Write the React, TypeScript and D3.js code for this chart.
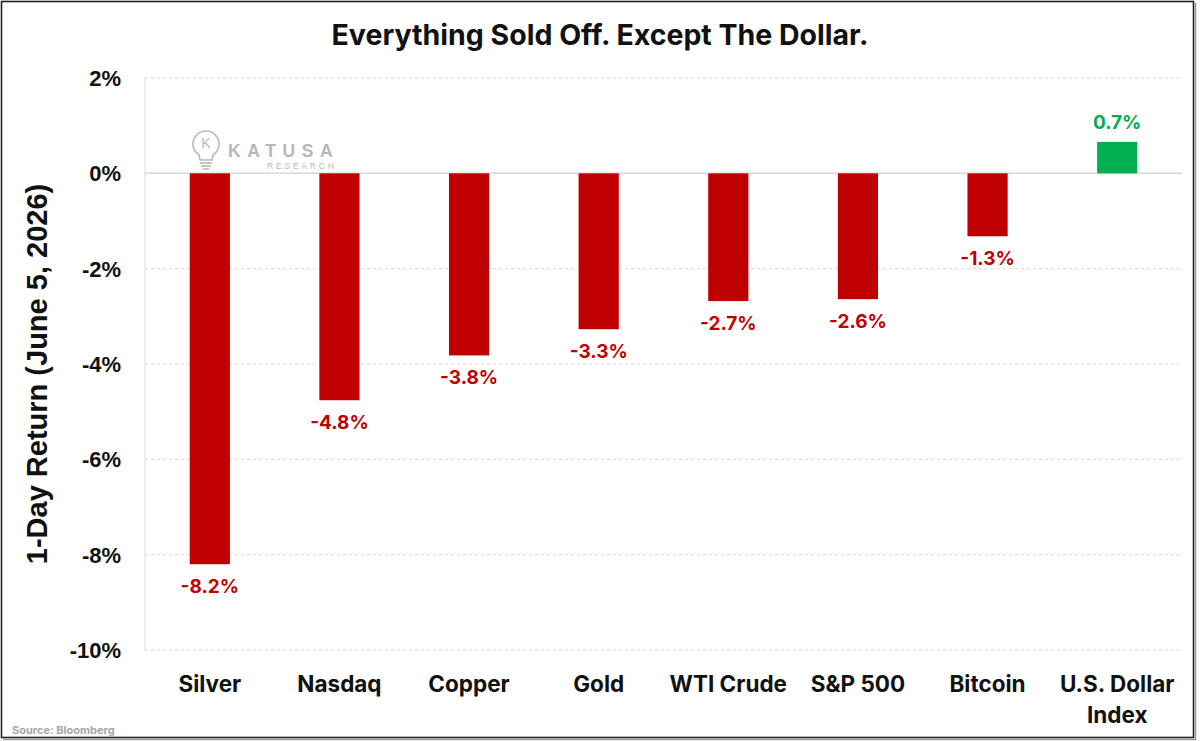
import React from "react";
import * as d3 from "d3";

const categories = ["Silver", "Nasdaq", "Copper", "Gold", "WTI Crude", "S&P 500", "Bitcoin", "U.S. Dollar Index"];
const values = [-8.2, -4.76, -3.82, -3.27, -2.68, -2.64, -1.32, 0.66];
const labels = ["-8.2%", "-4.8%", "-3.8%", "-3.3%", "-2.7%", "-2.6%", "-1.3%", "0.7%"];
const yTicks = [2, 0, -2, -4, -6, -8, -10];

const W = 1200;
const H = 741;
const plot = { left: 145, right: 1182, top: 78, bottom: 650 };

const RED = "#C00000";
const GREEN = "#00B050";
const GRID = "#d9d9d9";
const LOGO = "#b8b8b8";
const sansBold = "Inter, 'Noto Sans', sans-serif";
const arial = "'Liberation Sans', Arial, sans-serif";

export default function App() {
  const x = d3.scaleBand<string>().domain(categories).range([plot.left, plot.right]).paddingInner(0.69).paddingOuter(0.345);
  const y = d3.scaleLinear().domain([-10, 2]).range([plot.bottom, plot.top]);

  return (
    <>
      <style>{"body{margin:0;background:#fff}"}</style>
      <svg width={W} height={H} style={{ display: "block" }}>
        <rect x={0} y={0} width={W} height={H} fill="#fff" />
        <rect x={1.5} y={1.5} width={1192} height={736} fill="none" stroke="#222" strokeWidth={1.6} />
        <line x1={3} x2={1196} y1={739.5} y2={739.5} stroke="#999" strokeWidth={1.5} />
        <line x1={1195.5} x2={1195.5} y1={3} y2={740} stroke="#999" strokeWidth={1.5} />

        <text x={600} y={45} textAnchor="middle" fontFamily={sansBold} fontWeight={700} fontSize={28.5} fill="#111">
          Everything Sold Off. Except The Dollar.
        </text>

        {/* grid */}
        {yTicks.map((t) => (
          <line
            key={"g" + t}
            x1={plot.left}
            x2={plot.right}
            y1={y(t)}
            y2={y(t)}
            stroke={GRID}
            strokeWidth={1}
            strokeDasharray={t === 0 ? undefined : "3,3"}
          />
        ))}
        <line x1={plot.left} x2={plot.left} y1={plot.top} y2={plot.bottom} stroke={GRID} strokeWidth={1} />
        <line x1={plot.left} x2={plot.right} y1={y(0)} y2={y(0)} stroke={GRID} strokeWidth={1.5} />

        {/* y tick labels */}
        {yTicks.map((t) => (
          <text key={"t" + t} x={121} y={y(t) + 8} textAnchor="end" fontFamily={arial} fontWeight={700} fontSize={22} fill="#111">
            {t + "%"}
          </text>
        ))}

        <text
          transform={`translate(47,374) rotate(-90)`}
          textAnchor="middle"
          fontFamily={arial}
          fontWeight={700}
          fontSize={29}
          fill="#111"
        >
          1-Day Return (June 5, 2026)
        </text>

        {/* logo */}
        <g>
          <path
            d="M 199 155 a 13 13 0 1 1 14 0 l -1 5 h -12 z"
            fill="none"
            stroke={LOGO}
            strokeWidth={1.6}
          />
          <line x1={200} x2={212} y1={163} y2={163} stroke={LOGO} strokeWidth={1.6} />
          <line x1={201} x2={211} y1={166} y2={166} stroke={LOGO} strokeWidth={1.6} />
          <line x1={203} x2={209} y1={169} y2={169} stroke={LOGO} strokeWidth={1.6} />
          <text x={206} y={148} textAnchor="middle" fontFamily={arial} fontSize={14} fill={LOGO}>K</text>
          <text x={228} y={157} fontFamily={arial} fontWeight={700} fontSize={17.5} letterSpacing={6.6} fill={LOGO}>
            KATUSA
          </text>
          <text x={267} y={169} fontFamily={arial} fontSize={8.5} letterSpacing={2.8} fill={LOGO}>
            RESEARCH
          </text>
        </g>

        {/* bars */}
        {categories.map((c, i) => {
          const v = values[i];
          const x0 = x(c)!;
          const top = Math.min(y(v), y(0));
          const h = Math.abs(y(v) - y(0));
          return <rect key={"b" + c} x={x0} y={top} width={x.bandwidth()} height={h} fill={v < 0 ? RED : GREEN} />;
        })}

        {/* value labels */}
        {categories.map((c, i) => {
          const v = values[i];
          const cx = x(c)! + x.bandwidth() / 2;
          const ly = v < 0 ? y(v) + 29 : y(v) - 13;
          return (
            <text key={"v" + c} x={cx} y={ly} textAnchor="middle" fontFamily={sansBold} fontWeight={700} fontSize={19} fill={v < 0 ? RED : GREEN}>
              {labels[i]}
            </text>
          );
        })}

        {/* category labels */}
        {categories.map((c) => {
          const cx = x(c)! + x.bandwidth() / 2;
          const parts = c === "U.S. Dollar Index" ? ["U.S. Dollar", "Index"] : [c];
          return (
            <text key={"c" + c} x={cx} y={692} textAnchor="middle" fontFamily={sansBold} fontWeight={700} fontSize={22.5} fill="#111">
              {parts.map((p, j) => (
                <tspan key={p} x={cx} dy={j === 0 ? 0 : 31}>
                  {p}
                </tspan>
              ))}
            </text>
          );
        })}

        <text x={12} y={734} fontFamily={sansBold} fontWeight={700} fontSize={11} fill="#a6a6a6">
          Source: Bloomberg
        </text>
      </svg>
    </>
  );
}
